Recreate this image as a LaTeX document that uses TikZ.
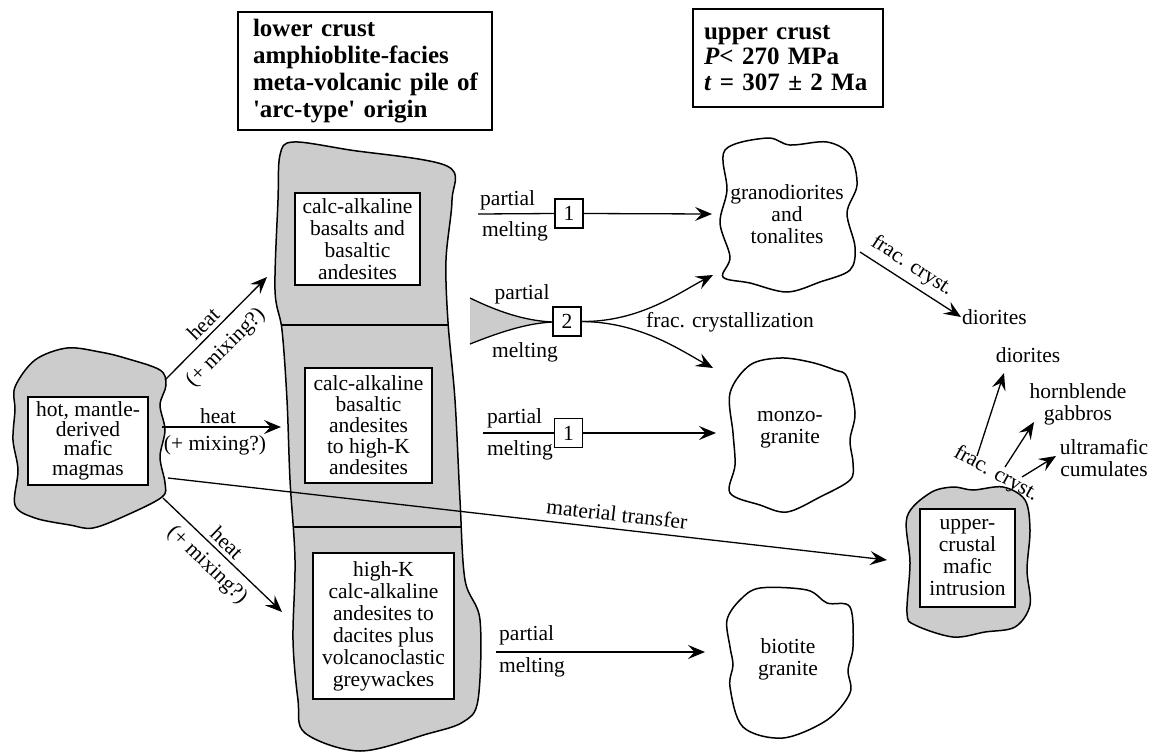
\documentclass[tikz,border=0pt]{standalone}
\usepackage{fontspec}
\setmainfont{Liberation Serif}
\usetikzlibrary{arrows.meta}
\begin{document}
\begin{tikzpicture}[x=1pt,y=-1pt,
  ft/.style={font=\fontsize{21.5}{22}\selectfont},
  blob/.style={draw, line width=1.5pt, fill=black!20},
  cloud/.style={draw, line width=1.5pt, fill=white},
  wbox/.style={draw, line width=1.1pt, fill=white, align=center, inner sep=1pt, ft},
  numbox/.style={draw, line width=1.1pt, fill=white, minimum width=28pt, minimum height=29pt, inner sep=0pt, ft},
  conn/.style={line width=1.3pt},
  arr/.style={line width=1.3pt, -{Stealth[length=17pt,width=14pt,inset=6.5pt]}},
  lbl/.style={ft, inner sep=1pt},
  hdr/.style={draw, line width=1.1pt, align=left, inner ysep=0pt}
]
\fill[white] (0,0) rectangle (1150,753);
\useasboundingbox (0,0) rectangle (1150,753);

% header boxes
\node[hdr, text width=232pt, inner xsep=11pt, minimum height=118pt,
      font=\fontsize{25}{27}\selectfont\bfseries] (hdrL) at (365,71)
  {\hspace*{4pt}lower crust\\\hspace*{4pt}amphioblite-facies\\\hspace*{4pt}meta-volcanic pile of\\\hspace*{4pt}\textquotesingle arc-type\textquotesingle{} origin};
\node[hdr, text width=168pt, inner xsep=11pt, minimum height=98pt,
      font=\fontsize{25}{25.5}\selectfont\bfseries] (hdrU) at (788,58)
  {upper crust\\\textit{P}< 270 MPa\\\textit{t} = 307 ± 2 Ma};

% lower crust column
\draw[blob] plot[smooth cycle, tension=0.55] coordinates {(280,155) (293,142) (350,150) (447,166) (452,200) (446,260) (448,322) (455,400) (460,500) (465,580) (480,620) (478,700) (463,722) (427,734) (360,751) (305,733) (298,700) (293,640) (295,560) (290,480) (287,400) (282,330) (275,290) (278,200)};
\coordinate (d1l) at (281,325); \coordinate (d1r) at (448,325);
\coordinate (d2l) at (294,527); \coordinate (d2r) at (461,527);
\draw[line width=1.2pt] (d1l) -- (d1r);
\draw[line width=1.2pt] (d2l) -- (d2r);
\node[wbox, minimum width=125pt, minimum height=92pt] (cA) at (357.5,239) {calc-alkaline\\basalts and\\basaltic\\andesites};
\node[wbox, minimum width=127pt, minimum height=115pt, font=\fontsize{21.5}{21}\selectfont] (cB) at (368.5,425.5) {calc-alkaline\\basaltic\\andesites\\to high-K\\andesites};
\node[wbox, minimum width=141pt, minimum height=146pt] (cC) at (383.5,626) {high-K\\calc-alkaline\\andesites to\\dacites plus\\volcanoclastic\\greywackes};

% mantle magma blob
\draw[blob] plot[smooth cycle, tension=0.55] coordinates {(15,387) (35,360) (67,348) (100,352) (125,358) (160,370) (166,385) (160,405) (165,430) (160,457) (165,483) (162,497) (127,515) (93,528) (70,525) (35,518) (15,505) (18,470) (13,440) (15,410)};
\node[wbox, minimum width=120pt, minimum height=88pt, font=\fontsize{21.5}{19.5}\selectfont] (mantle) at (88,441) {hot, mantle-\\derived\\mafic\\magmas};

% heat arrows
\coordinate (h1s) at (165,380); \coordinate (h1e) at (267,277);
\draw[arr] (h1s) -- (h1e);
\node[lbl, rotate=45] (h1a) at (203,324) {heat};
\node[lbl, rotate=45] (h1b) at (226,348) {(+ mixing?)};
\coordinate (h2s) at (162,427); \coordinate (h2e) at (281,427);
\draw[arr] (h2s) -- (h2e);
\node[lbl] (h2a) at (218,416) {heat};
\node[lbl] (h2b) at (215,445) {(+ mixing?)};
\coordinate (h3s) at (163,498); \coordinate (h3e) at (282,612);
\draw[arr] (h3s) -- (h3e);
\node[lbl, rotate=-44] (h3a) at (227,543) {heat};
\node[lbl, rotate=-44] (h3b) at (207,565) {(+ mixing?)};

% material transfer
\coordinate (mts) at (168,478); \coordinate (mte) at (887,560);
\draw[arr] (mts) -- (mte);
\node[lbl, rotate=-6.5] (mtl) at (617,514) {material transfer};

% row 1
\node[numbox] (n1) at (569,213.5) {1};
\coordinate (r1s) at (478,214); \coordinate (r1e) at (712,214);
\draw[conn] (r1s) -- (n1.west);
\draw[arr] (n1.east) -- (r1e);
\node[lbl, anchor=west] (r1a) at (479,200) {partial};
\node[lbl, anchor=west] (r1b) at (481,231) {melting};

% row 2
\coordinate (f2t) at (470,298); \coordinate (f2b) at (470,344); \coordinate (f2p) at (553,322);
\fill[black!20] (f2t) .. controls (505,315) and (530,321) .. (f2p) .. controls (530,323) and (505,330) .. (f2b) -- cycle;
\draw[line width=1.3pt] (f2t) .. controls (505,315) and (530,321) .. (f2p) .. controls (530,323) and (505,330) .. (f2b);
\node[numbox] (n2) at (567,321.5) {2};
\node[lbl] (r2a) at (522,294) {partial};
\node[lbl] (r2b) at (525,352) {melting};
\coordinate (g1) at (713,275); \coordinate (m1) at (713,368);
\draw[arr] (n2.east) .. controls (640,322) and (680,292) .. (g1);
\draw[arr] (n2.east) .. controls (640,322) and (680,350) .. (m1);
\node[lbl, anchor=west] (fcz) at (645,322) {frac. crystallization};

% row 3
\node[numbox] (n3) at (568.5,433) {1};
\coordinate (r3s) at (483,433); \coordinate (r3e) at (716,433);
\draw[conn] (r3s) -- (n3.west);
\draw[arr] (n3.east) -- (r3e);
\node[lbl, anchor=west] (r3a) at (486,418) {partial};
\node[lbl, anchor=west] (r3b) at (486,450) {melting};

% row 4
\coordinate (r4s) at (496,652); \coordinate (r4e) at (705,652);
\draw[arr] (r4s) -- (r4e);
\node[lbl, anchor=west] (r4a) at (498,635) {partial};
\node[lbl, anchor=west] (r4b) at (498,667) {melting};

% upper crust bodies
\draw[cloud] plot[smooth cycle, tension=0.55] coordinates {(725,150) (767,138) (790,145) (827,142) (850,155) (857,185) (847,213) (855,247) (850,270) (820,282) (787,292) (750,283) (723,277) (730,257) (720,223) (727,190)};
\node[ft, align=center, inner sep=0pt] (gran) at (787,214) {granodiorites\\and\\tonalites};

\draw[cloud] plot[smooth cycle, tension=0.55] coordinates {(750,365) (780,358) (810,362) (835,370) (847,377) (855,413) (850,440) (853,463) (850,480) (820,497) (787,512) (760,505) (730,493) (735,465) (733,433) (730,393)};
\node[ft, align=center, inner sep=0pt] (monzo) at (790,430) {monzo-\\granite};

\draw[cloud] plot[smooth cycle, tension=0.55] coordinates {(740,600) (760,588) (807,590) (827,603) (850,607) (853,647) (848,670) (850,693) (827,720) (783,738) (743,727) (730,687) (733,665) (730,647) (727,620)};
\node[ft, align=center, inner sep=0pt] (biot) at (788,659) {biotite\\granite};

\draw[blob] plot[smooth cycle, tension=0.55] coordinates {(907,517) (930,493) (953,487) (973,490) (1003,487) (1025,500) (1030,530) (1027,570) (1030,605) (1015,627) (985,632) (953,637) (915,625) (907,613) (910,563)};
\node[wbox, minimum width=95pt, minimum height=98pt] (ucm) at (967.5,558) {upper-\\crustal\\mafic\\intrusion};

% fractional crystallization of granodiorites
\coordinate (fc1s) at (860,252);
\node[lbl, anchor=west] (dio1) at (961,317) {diorites};
\draw[arr] (fc1s) -- (dio1.west);
\node[lbl, rotate=-33] (fc1l) at (912,266) {frac. cryst.};

% fractional crystallization of mafic intrusion
\node[lbl] (dio2) at (1028,355) {diorites};
\node[ft, align=center, inner sep=0pt] (hbg) at (1078,404) {hornblende\\gabbros};
\node[ft, align=center, inner sep=0pt] (umc) at (1104,458) {ultramafic\\cumulates};
\coordinate (a1s) at (977,456); \coordinate (a1e) at (1004,373);
\coordinate (a2s) at (1005,467); \coordinate (a2e) at (1034,422);
\coordinate (a3s) at (1022,477); \coordinate (a3e) at (1056,456);
\draw[arr] (a1s) -- (a1e);
\draw[arr] (a2s) -- (a2e);
\draw[arr] (a3s) -- (a3e);
\node[lbl, rotate=-29] (fc2l) at (996,474) {frac. cryst.};
\end{tikzpicture}
\end{document}
